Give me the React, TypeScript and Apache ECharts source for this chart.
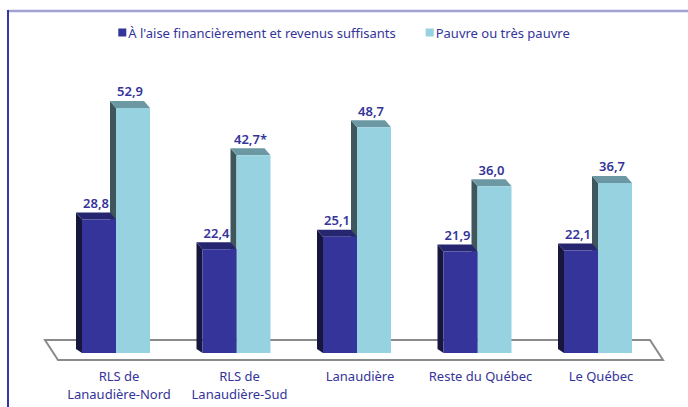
import React, { useEffect, useRef } from "react";
import * as echarts from "echarts";

const categories = ["RLS de\nLanaudière-Nord", "RLS de\nLanaudière-Sud", "Lanaudière", "Reste du Québec", "Le Québec"];
const seriesNames = ["À l'aise financièrement et revenus suffisants", "Pauvre ou très pauvre"];
const aiseValues = [28.8, 22.4, 25.1, 21.9, 22.1];
const pauvreValues = [52.9, 42.7, 48.7, 36.0, 36.7];
const pauvreNotes = ["", "*", "", "", ""];

const FONT = "Noto Sans";
const TEXT_COLOR = "#34349a";

function fmt(v: number) {
  return v.toFixed(1).replace(".", ",");
}

function makeRender(side: "left" | "right", front: string, sideCol: string, topCol: string, notes: string[]) {
  return (params: any, api: any) => {
    const idx = api.value(0);
    const val = api.value(1);
    const base = api.coord([idx, 0]);
    const top = api.coord([idx, val]);
    const w = 34;
    const dx = 6;
    const dy = 7;
    const c = base[0] - 3;
    const x0 = side === "left" ? c - w : c;
    const x1 = x0 + w;
    const yB = base[1];
    const yT = top[1];
    return {
      type: "group",
      children: [
        {
          type: "polygon",
          shape: { points: [[x0, yT], [x0 - dx, yT - dy], [x0 - dx, yB - 4], [x0, yB]] },
          style: { fill: sideCol },
        },
        {
          type: "polygon",
          shape: { points: [[x0, yT], [x0 - dx, yT - dy], [x1 - dx, yT - dy], [x1, yT]] },
          style: { fill: topCol },
        },
        {
          type: "rect",
          shape: { x: x0, y: yT, width: w, height: yB - yT },
          style: { fill: front },
        },
        {
          type: "text",
          x: (x0 + x1) / 2 - 3,
          y: yT - dy - 3,
          style: {
            text: fmt(val) + (notes[idx] || ""),
            fill: TEXT_COLOR,
            font: `600 13px "${FONT}"`,
            textAlign: "center",
            textVerticalAlign: "bottom",
          },
        },
      ],
    };
  };
}

const labelStyle = {
  color: TEXT_COLOR,
  fontSize: 13,
  fontFamily: FONT,
  interval: 0,
};

export default function App() {
  const ref = useRef<HTMLDivElement>(null);
  useEffect(() => {
    if (!ref.current) return;
    const chart = echarts.init(ref.current, null, { renderer: "svg" });
    chart.setOption({
      animation: false,
      backgroundColor: "#ffffff",
      textStyle: { fontFamily: FONT },
      legend: {
        top: 21,
        left: "center",
        itemWidth: 8,
        itemHeight: 8,
        itemGap: 30,
        icon: "rect",
        data: seriesNames,
        textStyle: { color: TEXT_COLOR, fontSize: 13, fontFamily: FONT, padding: [0, 0, 0, -3] },
      },
      grid: { left: 58.75, right: 26.75, top: 75, bottom: 54 },
      xAxis: [
        {
          type: "category",
          data: categories,
          axisLine: { show: false },
          axisTick: { show: false },
          axisLabel: {
            ...labelStyle,
            margin: 16,
            formatter: (v: string) => v.split("\n")[0],
          },
        },
        {
          type: "category",
          data: categories,
          position: "bottom",
          axisLine: { show: false },
          axisTick: { show: false },
          splitLine: { show: false },
          axisLabel: {
            ...labelStyle,
            margin: 34,
            formatter: (v: string) => v.split("\n")[1] || "",
          },
        },
      ],
      yAxis: { type: "value", min: 0, max: 60, show: false, splitLine: { show: false } },
      graphic: [
        {
          type: "line",
          shape: { x1: 8, y1: 11, x2: 688, y2: 11 },
          style: { stroke: "#a3a3d3", lineWidth: 2.5 },
          z: 0,
        },
        {
          type: "line",
          shape: { x1: 8, y1: 10, x2: 8, y2: 407 },
          style: { stroke: "#3535a5", lineWidth: 2 },
          z: 0,
        },
        {
          type: "polygon",
          shape: { points: [[45, 340], [650, 340], [663, 360], [58, 360]] },
          style: { fill: "#ffffff", stroke: "#8a8a8a", lineWidth: 2 },
          z: 0,
        },
      ],
      series: [
        {
          name: seriesNames[1],
          type: "custom",
          z: 2,
          xAxisIndex: 0,
          itemStyle: { color: "#97d2e1" },
          data: pauvreValues.map((v, i) => [i, v]),
          encode: { x: 0, y: 1 },
          renderItem: makeRender("right", "#97d2e1", "#3f575c", "#6b98a2", pauvreNotes),
        },
        {
          name: seriesNames[0],
          type: "custom",
          z: 3,
          xAxisIndex: 0,
          itemStyle: { color: "#34349a" },
          data: aiseValues.map((v, i) => [i, v]),
          encode: { x: 0, y: 1 },
          renderItem: makeRender("left", "#34349a", "#16163f", "#262670", ["", "", "", "", ""]),
        },
      ],
    });
    return () => chart.dispose();
  }, []);
  return (
    <div
      ref={ref}
      style={{ position: "fixed", left: 0, top: 0, width: 688, height: 407 }}
    />
  );
}
